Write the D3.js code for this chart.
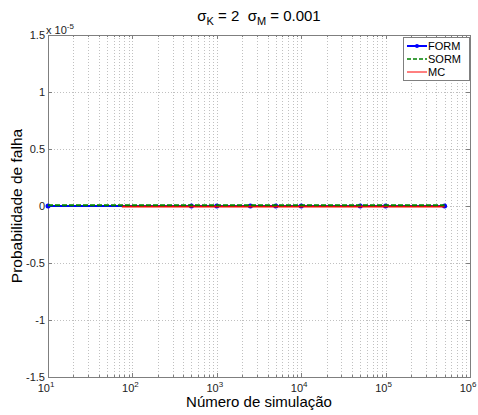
<!DOCTYPE html>
<html><head><meta charset="utf-8">
<script src="https://cdn.jsdelivr.net/npm/d3@7"></script>
<style>body{margin:0;background:#fff;} text{font-family:"Liberation Sans",Arial,sans-serif;white-space:pre;}</style>
</head><body>
<svg id="c" width="478" height="415"></svg>
<script>
const formX = [10, 500, 1000, 2500, 5000, 10000, 50000, 100000, 500000];
const formY = [0, 0, 0, 0, 0, 0, 0, 0, 0];
const sormX = [10, 500, 1000, 2500, 5000, 10000, 50000, 100000, 500000];
const sormY = [0, 0, 0, 0, 0, 0, 0, 0, 0];
const mcX = [75, 500, 1000, 2500, 5000, 10000, 50000, 100000, 500000];
const mcY = [0, 0, 0, 0, 0, 0, 0, 0, 0];
const yTicks = [-1.5, -1, -0.5, 0, 0.5, 1, 1.5];
const xTickExps = [1, 2, 3, 4, 5, 6];
const legendNames = ["FORM", "SORM", "MC"];

const svg = d3.select("#c");
const L = 48, R = 470, T = 35, B = 377;
const x = d3.scaleLog().domain([10, 1e6]).range([L, R]);
const y = d3.scaleLinear().domain([-1.5e-5, 1.5e-5]).range([B, T]);
const gridC = "#c0c0c0", axC = "#7f7f7f";

// grid
const minor = [];
for (let e = 1; e < 6; e++) for (let k = 1; k <= 9; k++) minor.push(k * Math.pow(10, e));
minor.push(1e6);
const g = svg.append("g");
g.selectAll("line.gx").data(minor.filter(v => v > 10 && v < 1e6)).join("line")
  .attr("x1", d => Math.round(x(d)) + 0.5).attr("x2", d => Math.round(x(d)) + 0.5)
  .attr("y1", T).attr("y2", B)
  .attr("stroke", gridC).attr("stroke-width", 1).attr("stroke-dasharray", "1,2");
g.selectAll("line.gy").data(yTicks.filter(v => v > -1.5 && v < 1.5)).join("line")
  .attr("x1", L).attr("x2", R)
  .attr("y1", d => Math.round(y(d * 1e-5)) + 0.5).attr("y2", d => Math.round(y(d * 1e-5)) + 0.5)
  .attr("stroke", gridC).attr("stroke-width", 1).attr("stroke-dasharray", "1,2");

// box
svg.append("rect").attr("x", L + 0.5).attr("y", T + 0.5).attr("width", R - L).attr("height", B - T)
  .attr("fill", "none").attr("stroke", axC);

// ticks
const tk = svg.append("g").attr("stroke", axC);
minor.filter(v => v > 10 && v < 1e6).forEach(v => {
  const major = Math.abs(Math.log10(v) - Math.round(Math.log10(v))) < 1e-9;
  const len = major ? 4 : 2;
  const xx = Math.round(x(v)) + 0.5;
  tk.append("line").attr("x1", xx).attr("x2", xx).attr("y1", B).attr("y2", B - len);
  tk.append("line").attr("x1", xx).attr("x2", xx).attr("y1", T).attr("y2", T + len);
});
yTicks.forEach(v => {
  const yy = Math.round(y(v * 1e-5)) + 0.5;
  tk.append("line").attr("x1", L).attr("x2", L + 4).attr("y1", yy).attr("y2", yy);
  tk.append("line").attr("x1", R).attr("x2", R - 4).attr("y1", yy).attr("y2", yy);
});

// y tick labels
svg.append("g").selectAll("text").data(yTicks).join("text")
  .attr("x", L - 3).attr("y", d => y(d * 1e-5) + 4).attr("text-anchor", "end")
  .attr("font-size", 11).attr("fill", "#222").text(d => d);
// x10^-5
const ex = svg.append("text").attr("x", L - 2).attr("y", T - 1).attr("font-size", 11).attr("fill", "#222");
ex.append("tspan").text("x 10");
ex.append("tspan").attr("dy", -5).attr("font-size", 8).text("-5");

// x tick labels
const xl = svg.append("g").selectAll("text").data(xTickExps).join("text")
  .attr("x", d => x(Math.pow(10, d)) - 2).attr("y", B + 15).attr("text-anchor", "middle")
  .attr("font-size", 11).attr("fill", "#222");
xl.append("tspan").text("10");
xl.append("tspan").attr("dy", -5).attr("font-size", 8).text(d => d);

// axis labels
svg.append("text").attr("x", (L + R) / 2).attr("y", 407).attr("text-anchor", "middle")
  .attr("font-size", 15).attr("fill", "#000").text("Número de simulação");
svg.append("text").attr("transform", `translate(22,${(T + B) / 2}) rotate(-90)`).attr("text-anchor", "middle")
  .attr("font-size", 15.5).attr("fill", "#000").text("Probabilidade de falha");

// title
const tt = svg.append("text").attr("x", (L + R) / 2).attr("y", 21).attr("text-anchor", "middle")
  .attr("font-size", 15).attr("fill", "#000");
tt.append("tspan").text("σ");
tt.append("tspan").attr("dy", 4).attr("font-size", 11).text("K");
tt.append("tspan").attr("dy", -4).text(" = 2  σ");
tt.append("tspan").attr("dy", 4).attr("font-size", 11).text("M");
tt.append("tspan").attr("dy", -4).text(" = 0.001");

// lines
const line = d3.line().x(d => x(d[0])).y(d => y(d[1]));
const pts = (xs, ys) => xs.map((v, i) => [v, ys[i]]);
svg.append("path").attr("d", line(pts(formX, formY))).attr("fill", "none").attr("stroke", "#0000ff").attr("stroke-width", 2);
svg.append("g").selectAll("circle").data(pts(formX, formY)).join("circle")
  .attr("cx", d => x(d[0])).attr("cy", d => y(d[1])).attr("r", 2.5).attr("fill", "#0000ff");
svg.append("path").attr("d", line(pts(mcX, mcY))).attr("fill", "none").attr("stroke", "#ff0000").attr("stroke-width", 2).attr("transform", "translate(0,0.6)");
svg.append("path").attr("d", line(pts(sormX, sormY))).attr("fill", "none").attr("stroke", "#008000").attr("stroke-width", 2).attr("stroke-dasharray", "5,2").attr("transform", "translate(0,-0.8)");

// legend
const lg = svg.append("g");
lg.append("rect").attr("x", 403.5).attr("y", 37.5).attr("width", 66).attr("height", 43).attr("fill", "#fff").attr("stroke", axC);
const lc = ["#0000ff", "#008000", "#ff0000"];
legendNames.forEach((n, i) => {
  const yy = 46 + i * 13;
  const ln = lg.append("line").attr("x1", 407).attr("x2", 427).attr("y1", yy).attr("y2", yy).attr("stroke", lc[i])
    .attr("stroke-width", i === 0 ? 2 : (i === 1 ? 1.5 : 1));
  if (i === 1) ln.attr("stroke-dasharray", "4,2");
  if (i === 0) lg.append("circle").attr("cx", 417).attr("cy", yy).attr("r", 2).attr("fill", lc[i]);
  lg.append("text").attr("x", 428).attr("y", yy + 4).attr("font-size", 11).attr("fill", "#000").text(n);
});
</script>
</body></html>
